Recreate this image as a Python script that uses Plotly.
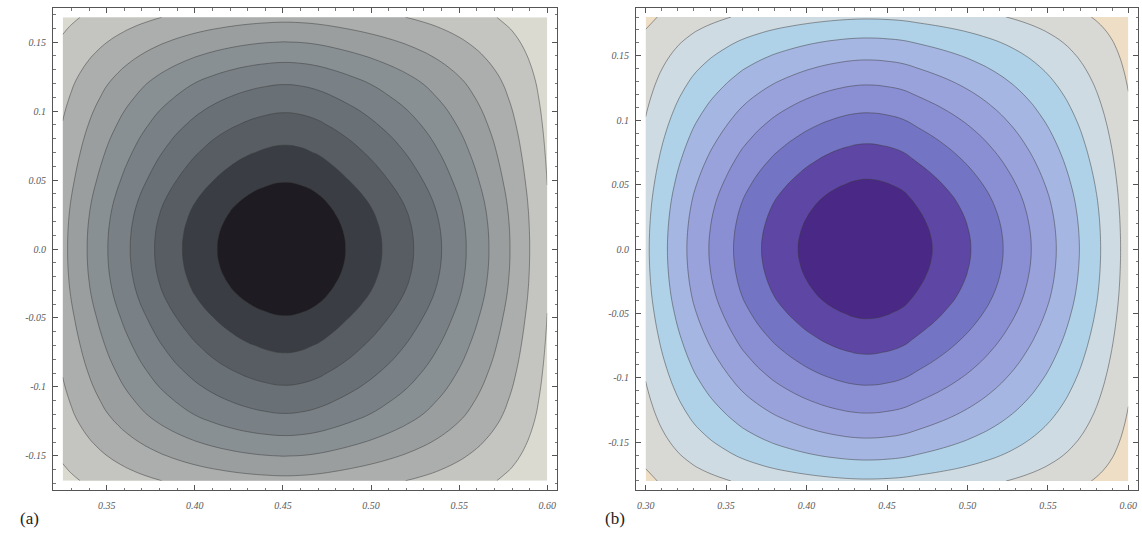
import numpy as np
import plotly.graph_objects as go

# ---------------- data ----------------
# Panel (a): profile of the field along x and along y (relative level, 1 = centre)
a_x = [0.325, 0.33, 0.34, 0.35, 0.36, 0.37, 0.38, 0.39, 0.40, 0.41, 0.42, 0.43, 0.44, 0.45,
       0.46, 0.47, 0.48, 0.49, 0.50, 0.51, 0.52, 0.53, 0.54, 0.55, 0.56, 0.57, 0.58, 0.59, 0.60]
a_px = [0.275, 0.32, 0.41, 0.495, 0.575, 0.65, 0.72, 0.783, 0.84, 0.889, 0.93, 0.963, 0.986, 0.998,
        0.99, 0.965, 0.925, 0.88, 0.832, 0.78, 0.725, 0.665, 0.60, 0.53, 0.455, 0.375, 0.29, 0.20, 0.11]
a_y = [-0.168, -0.16, -0.15, -0.14, -0.13, -0.12, -0.11, -0.10, -0.09, -0.08, -0.07, -0.06,
       -0.05, -0.04, -0.03, -0.02, -0.01, 0.0, 0.01, 0.02, 0.03, 0.04, 0.05, 0.06, 0.07,
       0.08, 0.09, 0.10, 0.11, 0.12, 0.13, 0.14, 0.15, 0.16, 0.168]
a_py = [0.275, 0.332, 0.402, 0.47, 0.535, 0.597, 0.647, 0.696, 0.74, 0.783, 0.822, 0.86,
        0.896, 0.932, 0.962, 0.983, 0.996, 1.0, 0.996, 0.983, 0.962, 0.932, 0.896, 0.86, 0.822,
        0.783, 0.74, 0.696, 0.647, 0.597, 0.535, 0.47, 0.402, 0.332, 0.275]

# Panel (b)
b_x = [0.30, 0.31, 0.32, 0.33, 0.34, 0.35, 0.36, 0.37, 0.38, 0.39, 0.40, 0.41, 0.42, 0.43,
       0.44, 0.45, 0.46, 0.47, 0.48, 0.49, 0.50, 0.51, 0.52, 0.53, 0.54, 0.55, 0.56, 0.57,
       0.58, 0.59, 0.60]
b_px = [0.28, 0.37, 0.455, 0.535, 0.605, 0.67, 0.735, 0.79, 0.84, 0.882, 0.92, 0.952, 0.977, 0.994,
        0.998, 0.988, 0.968, 0.93, 0.893, 0.853, 0.81, 0.763, 0.712, 0.657, 0.598, 0.535, 0.468,
        0.397, 0.322, 0.243, 0.16]
b_y = [-0.18, -0.17, -0.16, -0.15, -0.14, -0.13, -0.12, -0.11, -0.10, -0.09, -0.08, -0.07,
       -0.06, -0.05, -0.04, -0.03, -0.02, -0.01, 0.0, 0.01, 0.02, 0.03, 0.04, 0.05, 0.06,
       0.07, 0.08, 0.09, 0.10, 0.11, 0.12, 0.13, 0.14, 0.15, 0.16, 0.17, 0.18]
b_py = [0.29, 0.36, 0.425, 0.483, 0.537, 0.588, 0.636, 0.682, 0.726, 0.768, 0.808, 0.846,
        0.882, 0.915, 0.945, 0.968, 0.985, 0.996, 1.0, 0.996, 0.985, 0.968, 0.945, 0.915, 0.882,
        0.846, 0.808, 0.768, 0.726, 0.682, 0.636, 0.588, 0.537, 0.483, 0.425, 0.36, 0.29]

levels = dict(start=0.1, end=0.9, size=0.1)

a_ticks_x = [0.35, 0.40, 0.45, 0.50, 0.55, 0.60]
a_ticktext_x = ["0.35", "0.40", "0.45", "0.50", "0.55", "0.60"]
b_ticks_x = [0.30, 0.35, 0.40, 0.45, 0.50, 0.55, 0.60]
b_ticktext_x = ["0.30", "0.35", "0.40", "0.45", "0.50", "0.55", "0.60"]
ticks_y = [-0.15, -0.1, -0.05, 0.0, 0.05, 0.1, 0.15]
ticktext_y = ["-0.15", "-0.1", "-0.05", "0.0", "0.05", "0.1", "0.15"]

gray_colors = ["#dadad0", "#c4c5c0", "#abaeac", "#9a9e9f", "#899094",
               "#798086", "#697076", "#575d63", "#3a3e44", "#1e1c22"]
lake_colors = ["#eedec6", "#d8d9d5", "#cfdbe2", "#b0d2e8", "#a6b6e2",
               "#9aa2dc", "#8a8ed2", "#7474c4", "#5e46a4", "#4a2886"]


def stepped(colors):
    n = len(colors)
    cs = []
    for k, c in enumerate(colors):
        cs.append([k / n, c])
        cs.append([(k + 1) / n, c])
    return cs


za = np.outer(a_py, a_px)
zb = np.outer(b_py, b_px)

line_style = dict(color="rgba(60,60,60,0.55)", width=0.9, smoothing=1.3)

fig = go.Figure()
fig.add_trace(go.Contour(x=a_x, y=a_y, z=za, contours=dict(**levels, coloring="fill"),
                         colorscale=stepped(gray_colors), zmin=0, zmax=1,
                         showscale=False, line=line_style, xaxis="x", yaxis="y",
                         hoverinfo="skip"))
fig.add_trace(go.Contour(x=b_x, y=b_y, z=zb, contours=dict(**levels, coloring="fill"),
                         colorscale=stepped(lake_colors), zmin=0, zmax=1,
                         showscale=False, line=line_style, xaxis="x2", yaxis="y2",
                         hoverinfo="skip"))

W, H = 1142, 534
tickfont = dict(family="Liberation Serif", size=10, color="#5a5a5a", style="italic")
common = dict(showline=True, linecolor="#555555", linewidth=1, mirror="allticks",
              ticks="inside", ticklen=5, tickcolor="#555555", tickwidth=1,
              showgrid=False, zeroline=False, tickfont=tickfont, automargin=False,
              minor=dict(ticks="inside", ticklen=2.5, tickcolor="#777777", dtick=0.01))

fig.update_layout(
    width=W, height=H, margin=dict(l=0, r=0, t=0, b=0),
    paper_bgcolor="white", plot_bgcolor="white", showlegend=False,
    xaxis=dict(domain=[53 / W, 557 / W], range=[0.3195, 0.6055], anchor="y",
               tickvals=a_ticks_x, ticktext=a_ticktext_x, ticklabelstandoff=6, **common),
    yaxis=dict(domain=[1 - 490 / H, 1 - 8 / H], range=[-0.1747, 0.1747], anchor="x",
               tickvals=ticks_y, ticktext=ticktext_y, ticklabelstandoff=4, **common),
    xaxis2=dict(domain=[636 / W, 1138 / W], range=[0.294, 0.606], anchor="y2",
                tickvals=b_ticks_x, ticktext=b_ticktext_x, ticklabelstandoff=6, **common),
    yaxis2=dict(domain=[1 - 490 / H, 1 - 8 / H], range=[-0.187, 0.187], anchor="x2",
                tickvals=ticks_y, ticktext=ticktext_y, ticklabelstandoff=4, **common),
    annotations=[
        dict(text="(a)", x=18 / W, y=1 - 518 / H, xref="paper", yref="paper",
             xanchor="left", yanchor="middle", showarrow=False,
             font=dict(family="Liberation Serif", size=17, color="#222222")),
        dict(text="(b)", x=603 / W, y=1 - 518 / H, xref="paper", yref="paper",
             xanchor="left", yanchor="middle", showarrow=False,
             font=dict(family="Liberation Serif", size=17, color="#222222")),
    ],
)

fig.write_html("out.html", config={"displayModeBar": False},
               post_script="document.body.style.margin='0px';document.body.style.padding='0px';")
